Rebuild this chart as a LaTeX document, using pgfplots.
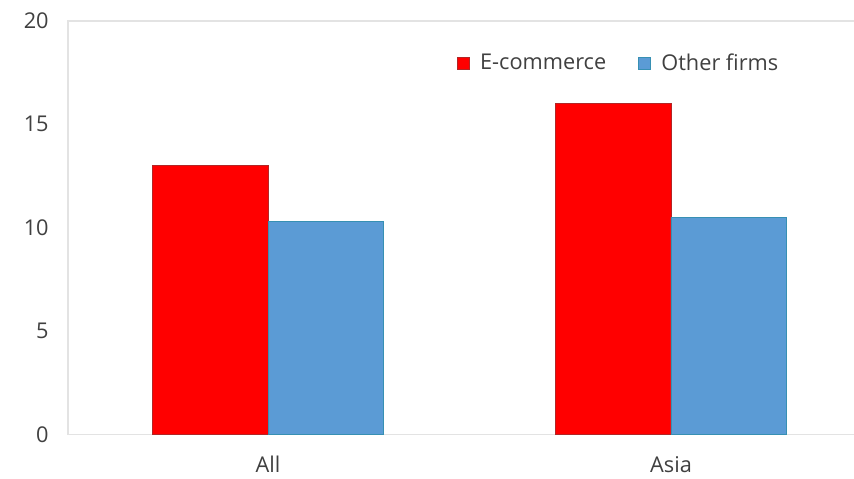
\documentclass[border=0pt]{standalone}
\usepackage{pgfplots}
\pgfplotsset{compat=1.18}
\usepackage{fontspec}
\setmainfont{Open Sans}
\definecolor{ecom}{HTML}{FF0000}
\definecolor{other}{HTML}{5B9BD5}
\definecolor{txt}{HTML}{404040}
\definecolor{frame}{HTML}{E3E3E3}
\begin{document}
\begin{tikzpicture}
\useasboundingbox (-51pt,-33.5pt) rectangle (589.5pt,325.7pt);
\begin{axis}[
  at={(0,0)}, anchor=south west,
  scale only axis,
  width=595.5pt, height=310pt,
  xmin=-0.4963, xmax=1.474,
  ymin=0, ymax=20,
  ytick={0,5,10,15,20},
  xtick={0,1}, xticklabels={All,Asia},
  major tick length=0pt,
  axis line style={frame, line width=0.9pt},
  font=\fontsize{16.3}{19}\selectfont\color{txt},
  /pgf/number format/assume math mode=true,
  yticklabel style={xshift=-11pt},
  xticklabel style={yshift=-13pt},
  ybar, bar width=86.6pt,
  legend style={draw=none, fill=none, at={(0.694,0.898)}, anchor=center,
     legend columns=2, /tikz/every even column/.append style={column sep=22pt},
     font=\fontsize{16.3}{19}\selectfont\color{txt}},
  legend image code/.code={\fill[#1] (0pt,-4.5pt) rectangle (9pt,4.5pt); \path (15pt,0pt);},
]
\addplot[fill=ecom, draw=ecom!70!teal, line width=0.3pt, bar shift=-43.3pt] coordinates {(0,13.0) (1,16.0)};
\addplot[fill=other, draw=other!60!teal, line width=0.3pt, bar shift=43.3pt] coordinates {(0,10.3) (1,10.5)};
\legend{E-commerce, Other firms}
\end{axis}
\end{tikzpicture}
\end{document}
